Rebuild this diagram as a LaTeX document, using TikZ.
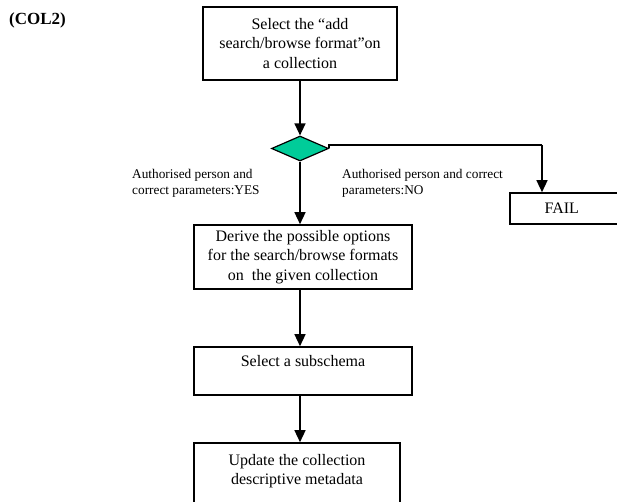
\documentclass[tikz,border=0pt]{standalone}
\usepackage{fontspec}
\setmainfont{Liberation Serif}
\usetikzlibrary{arrows.meta,shapes.geometric}
\definecolor{decisionfill}{RGB}{0,204,153}
\tikzset{
  stepbox/.style={draw=black, line width=1.6pt, rectangle, align=center,
    inner sep=0pt, font=\fontsize{16}{19.5}\selectfont},
  decision/.style={draw=black, line width=1.2pt, diamond, fill=decisionfill,
    inner sep=0pt, minimum width=57pt, minimum height=25pt, aspect=2.3},
  flow/.style={line width=1.4pt, -{Triangle[length=12pt,width=11pt]}},
  branch/.style={line width=1.4pt},
  note/.style={align=left, inner sep=0pt, font=\fontsize{13.3}{16}\selectfont},
}
\begin{document}
\begin{tikzpicture}[x=1pt,y=-1pt]
\useasboundingbox (0,0) rectangle (617,502);

\node[font=\fontsize{17}{20}\bfseries, anchor=west, inner sep=0pt] (title) at (9,20) {(COL2)};

\node[stepbox, minimum width=194pt, minimum height=73pt] (start) at (300,43.5)
  {Select the “add\\search/browse format”on\\a collection};

\node[decision] (check) at (300,148.5) {};

\node[stepbox, minimum width=218pt, minimum height=64pt] (derive) at (303,257)
  {Derive the possible options\\for the search/browse formats\\on\ \ the given collection};

\node[stepbox, minimum width=218pt, minimum height=48pt] (subschema) at (303,371)
  {Select a subschema\\\mbox{}};

\node[stepbox, minimum width=206pt, minimum height=72pt] (update) at (297,479)
  {Update the collection\\descriptive metadata\\\mbox{}};

\node[stepbox, minimum width=130pt, minimum height=31pt, anchor=west] (fail) at (509,208.5)
  {\hspace*{-26pt}FAIL};

\node[note, anchor=west] (yes) at (132,183)
  {Authorised person and\\correct parameters:YES};
\node[note, anchor=west] (no) at (342,183)
  {Authorised person and correct\\parameters:NO};

\coordinate (turn) at (542,145);

\draw[flow] (start.south -| check.north) -- (check.north);
\draw[flow] (check.south) -- (check.south |- derive.north);
\draw[flow] (check.south |- derive.south) -- (check.south |- subschema.north);
\draw[flow] (check.south |- subschema.south) -- (check.south |- update.north);
\draw[branch] (check.east) -- (check.east |- turn) -- (turn);
\draw[flow] (turn) -- (turn |- fail.north);
\end{tikzpicture}
\end{document}
